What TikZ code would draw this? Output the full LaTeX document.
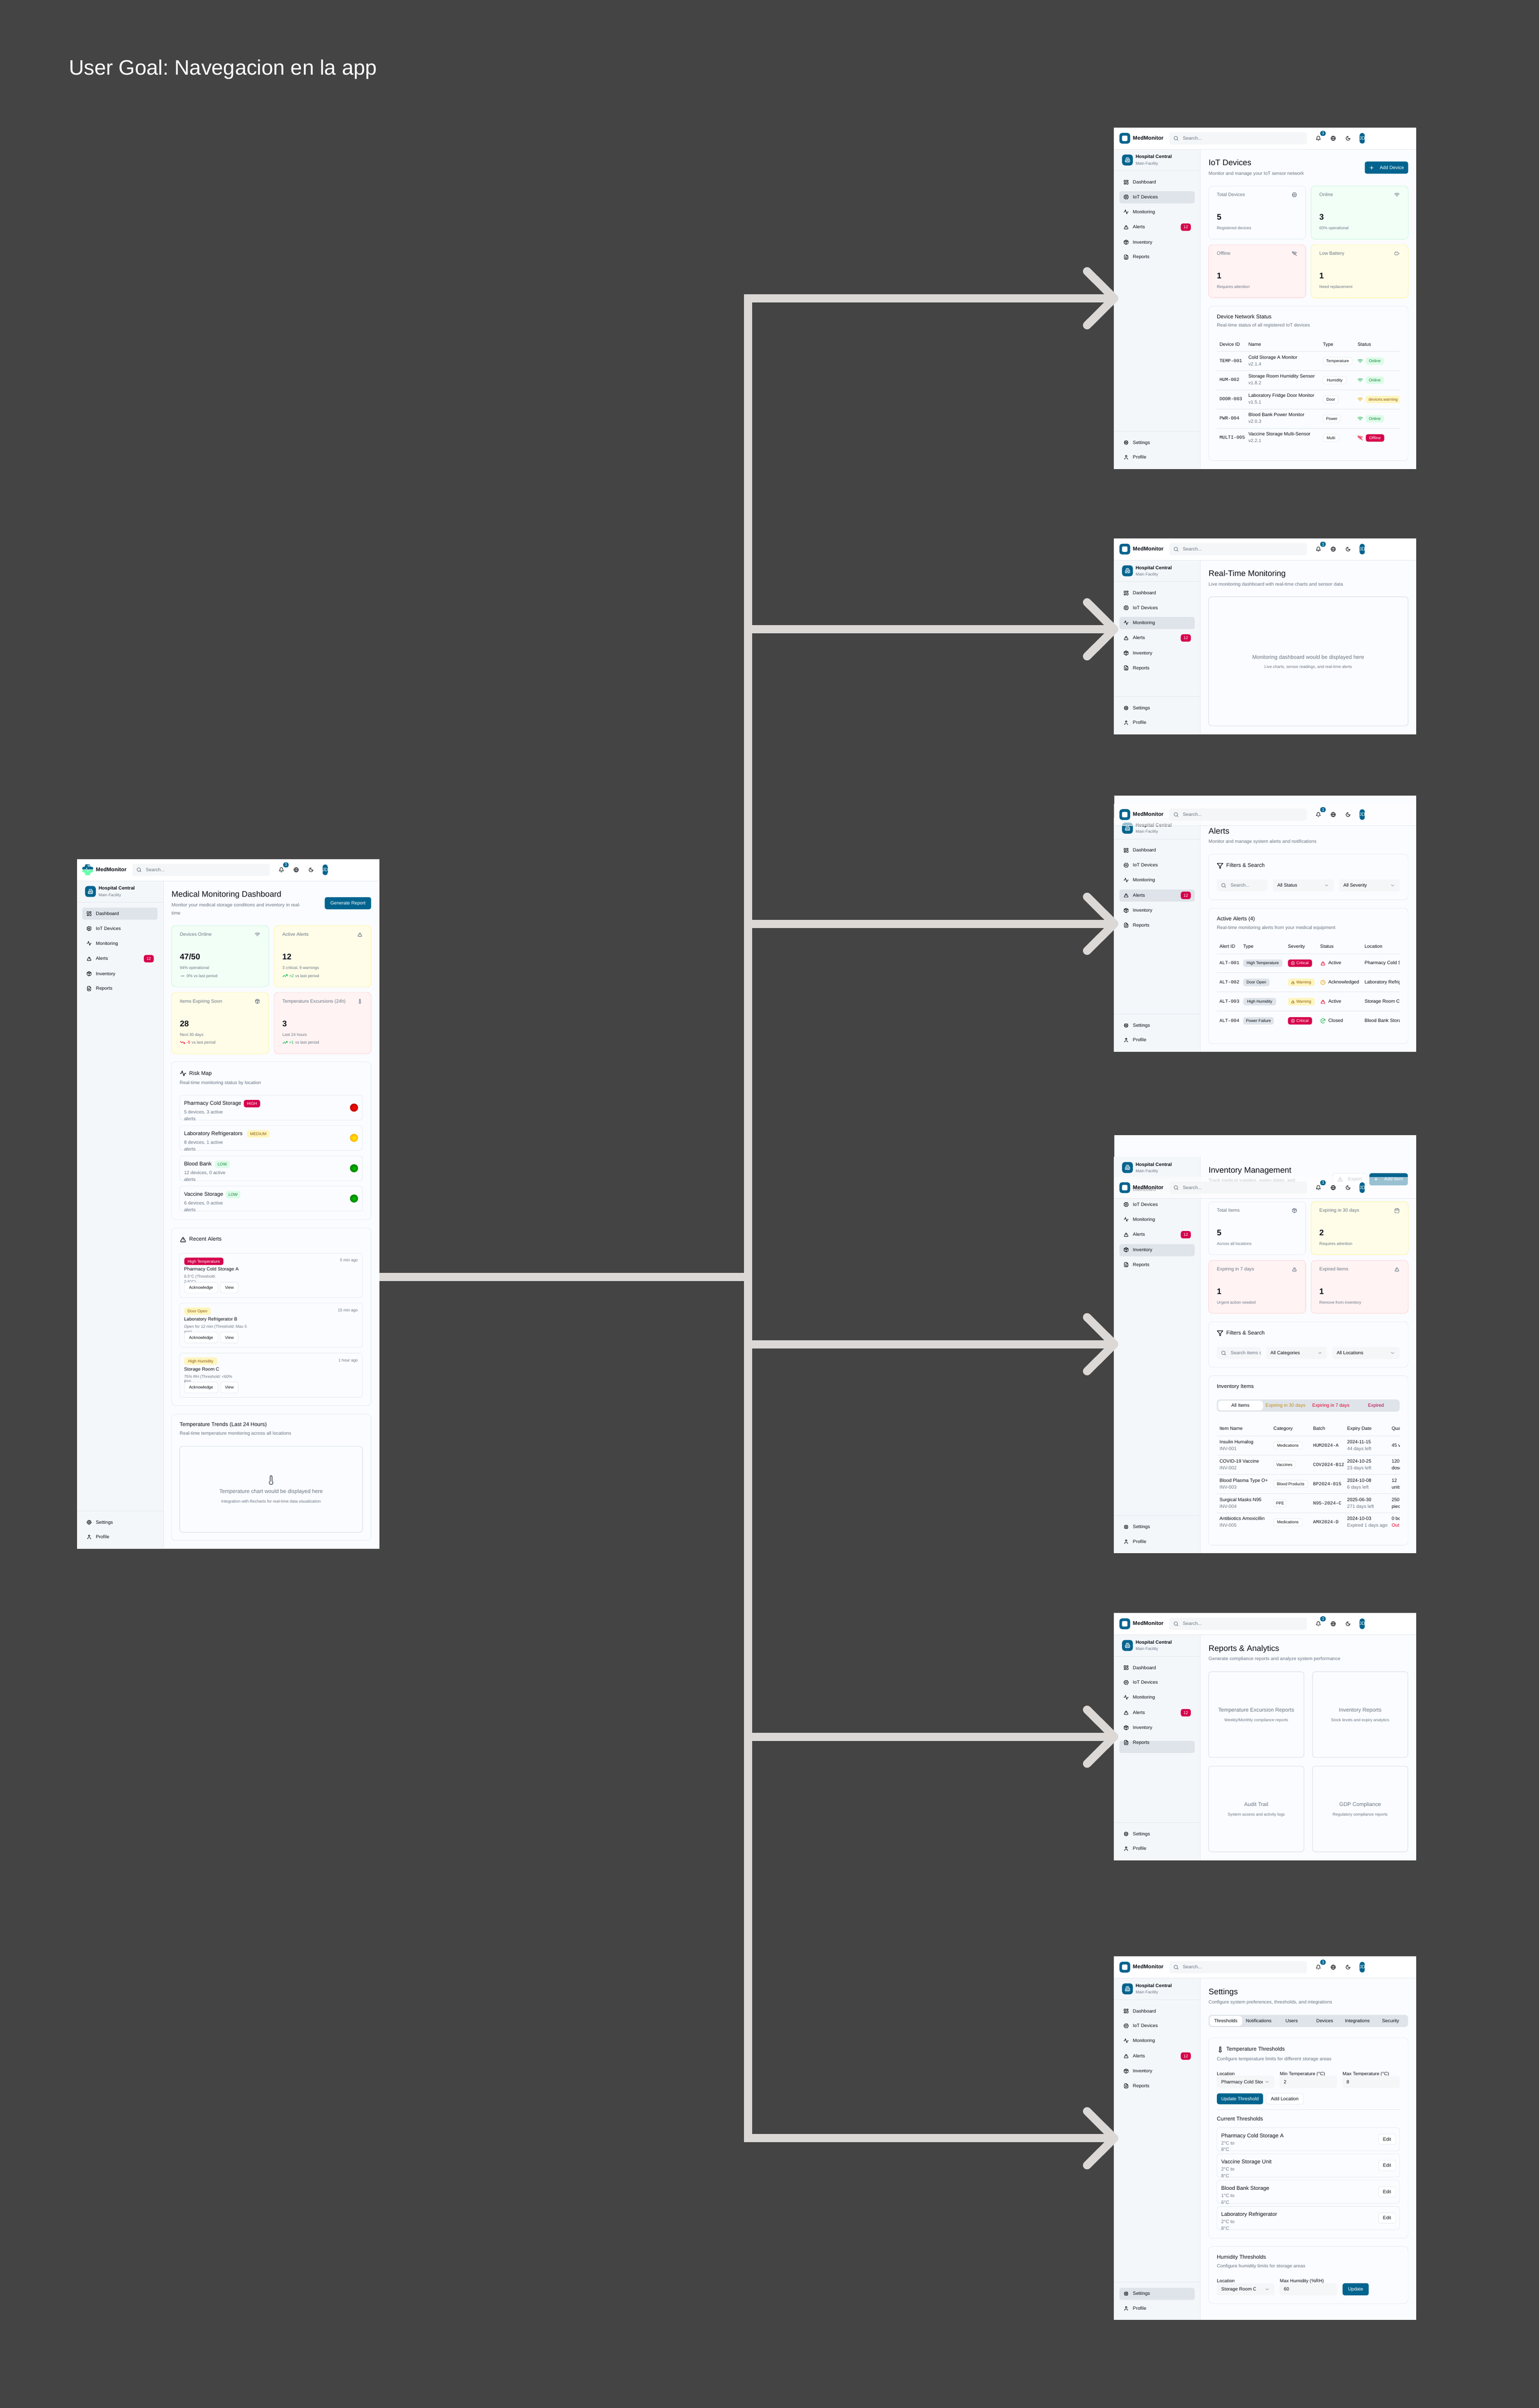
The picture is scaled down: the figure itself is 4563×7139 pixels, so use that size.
\documentclass[tikz,border=0pt]{standalone}
\usepackage{fontspec}
\setmainfont{Liberation Sans}
\setmonofont{Liberation Mono}
\usetikzlibrary{arrows.meta,calc}
\definecolor{bgdark}{HTML}{444444}
\definecolor{arrowc}{HTML}{DBD8D6}
\definecolor{pagec}{HTML}{FAFCFF}
\definecolor{sidec}{HTML}{F4F7FA}
\definecolor{linec}{HTML}{E2E8EE}
\definecolor{pillc}{HTML}{DEE4EA}
\definecolor{fieldc}{HTML}{F4F6F8}
\definecolor{inkc}{HTML}{0B0F16}
\definecolor{mutec}{HTML}{6B7684}
\definecolor{brandc}{HTML}{00648F}
\definecolor{crimc}{HTML}{D6004B}
\definecolor{greenbg}{HTML}{DCFCE7}
\definecolor{greenfg}{HTML}{15803D}
\definecolor{amberbg}{HTML}{FEF5BE}
\definecolor{amberfg}{HTML}{8F5A0A}
\definecolor{amberc}{HTML}{EAA50C}
\definecolor{redc}{HTML}{E7002A}
\definecolor{greenc}{HTML}{16B34A}
\definecolor{stgreenb}{HTML}{BBF7D0}
\definecolor{stgreenf}{HTML}{F2FFF6}
\definecolor{styellowb}{HTML}{FEF08A}
\definecolor{styellowf}{HTML}{FFFDE8}
\definecolor{stredb}{HTML}{FECACA}
\definecolor{stredf}{HTML}{FFF3F3}
\tikzset{
  t12/.style={font=\fontsize{12}{12}\selectfont,text height=10pt,text depth=1.4pt},
  t14/.style={font=\fontsize{14}{14}\selectfont,text height=11.7pt,text depth=2.3pt},
  t16/.style={font=\fontsize{16}{16}\selectfont,text height=13.3pt,text depth=2.7pt},
  t24/.style={font=\fontsize{24}{24}\selectfont,text height=20pt,text depth=4pt},
  tb14/.style={font=\fontsize{14}{14}\selectfont\bfseries,text height=11.7pt,text depth=2.3pt},
  tb16/.style={font=\fontsize{16}{16}\selectfont\bfseries,text height=13pt,text depth=3pt},
  tb24/.style={font=\fontsize{24}{24}\selectfont\bfseries,text height=20.3pt,text depth=4pt},
  tm14/.style={font=\fontsize{14}{14}\selectfont\ttfamily,text height=11.7pt,text depth=2.3pt},
  lab/.style={inner sep=0pt,anchor=west,text=inkc,t14},
  dim/.style={text=mutec},
  mid/.style={anchor=center},
  ends/.style={anchor=east},
  screen/.style={inner sep=0pt,anchor=north west,fill=pagec,minimum width=896pt},
  card/.style={draw=linec,fill=pagec,line width=1pt,rounded corners=12pt},
  rowbox/.style={draw=linec,fill=pagec,line width=1pt,rounded corners=8pt},
  panel/.style={draw=linec,fill=pagec,line width=2pt,rounded corners=8pt},
  field/.style={fill=fieldc,rounded corners=6pt},
  stwhite/.style={card},
  stgreen/.style={card,draw=stgreenb,fill=stgreenf},
  styellow/.style={card,draw=styellowb,fill=styellowf},
  stred/.style={card,draw=stredb,fill=stredf},
  tag/.style={inner sep=0pt,anchor=west,rounded corners=6pt,minimum height=22pt,t12},
  tagcrim/.style={fill=crimc,text=white},
  tagamber/.style={fill=amberbg,text=amberfg},
  taggreen/.style={fill=greenbg,text=greenfg},
  tagline/.style={draw=linec,line width=1pt,fill=white,text=inkc},
  taggrey/.style={fill=pillc,text=inkc},
  btnfill/.style={fill=brandc,text=white,t14,minimum height=36pt},
  btnline/.style={draw=linec,line width=1pt,fill=white,text=inkc,t14,minimum height=36pt},
  rule/.style={draw=linec,line width=1pt},
  icn/.style={scale=.667,line width=1.33pt,line cap=round,line join=round,color=inkc},
  icn20/.style={scale=1.25,line width=1.67pt},
  icn12/.style={scale=.75,line width=1pt},
  icn32/.style={scale=2,line width=2.67pt},
  g24/.style={shift={(-12,-12)}},
  conn/.style={draw=arrowc,line width=24.5pt,-{Straight Barb[round,length=80.5pt,width=160pt]}},
  pics/isearch/.style={code={\draw[g24] (11,11) circle (8pt) (21,21) -- (16.65,16.65);}},
  pics/ibell/.style={code={\draw[g24] (6,8) .. controls (6,4.7) and (8.7,2) .. (12,2) .. controls (15.3,2) and (18,4.7) .. (18,8) .. controls (18,15) and (21,17) .. (21,17) -- (3,17) .. controls (3,17) and (6,15) .. (6,8) (10.3,21) .. controls (11,22.3) and (13,22.3) .. (13.7,21);}},
  pics/iglobe/.style={code={\draw[g24] (12,12) circle (10pt) (2,12) -- (22,12) (12,12) ellipse (4pt and 10pt);}},
  pics/imoon/.style={code={\draw[g24] (12,3) .. controls (7,3) and (3,7) .. (3,12) .. controls (3,17) and (7,21) .. (12,21) .. controls (17,21) and (21,17) .. (21,12) .. controls (18,14.5) and (14,14.5) .. (12,12) .. controls (10,9.5) and (10,6) .. (12,3);}},
  pics/igrid/.style={code={\draw[g24,rounded corners=1pt] (3,3) rectangle (10,12) (14,3) rectangle (21,8) (14,12) rectangle (21,21) (3,16) rectangle (10,21);}},
  pics/ichip/.style={code={\draw[g24] (15,2) -- (15,4) (15,20) -- (15,22) (2,15) -- (4,15) (2,9) -- (4,9) (20,15) -- (22,15) (20,9) -- (22,9) (9,2) -- (9,4) (9,20) -- (9,22); \draw[g24,rounded corners=2pt] (4,4) rectangle (20,20); \draw[g24,rounded corners=1pt] (9,9) rectangle (15,15);}},
  pics/ipulse/.style={code={\draw[g24] (22,12) -- (18,12) -- (15,21) -- (9,3) -- (6,12) -- (2,12);}},
  pics/iwarn/.style={code={\draw[g24,rounded corners=2pt] (12,3) -- (22,21) -- (2,21) -- cycle; \draw[g24] (12,9) -- (12,13) (12,17) -- (12,17.01);}},
  pics/ibox/.style={code={\draw[g24] (12,2) -- (21,7) -- (21,17) -- (12,22) -- (3,17) -- (3,7) -- cycle (3,7) -- (12,12) -- (21,7) (12,12) -- (12,22) (7.5,4.5) -- (16.5,9.5);}},
  pics/ifile/.style={code={\draw[g24,rounded corners=2pt] (14,2) -- (4,2) -- (4,22) -- (20,22) -- (20,8) -- cycle; \draw[g24] (14,2) -- (14,8) -- (20,8) (16,13) -- (8,13) (16,17) -- (8,17) (10,9) -- (8,9);}},
  pics/igear/.style={code={\draw[g24] (12,12) circle (3pt) (12,12) circle (7.5pt); \foreach \a in {0,45,...,315} \draw[line width=2pt,line cap=butt] (\a:7.5pt) -- (\a:10pt);}},
  pics/iuser/.style={code={\draw[g24] (12,7) circle (4pt) (19,21) -- (19,19) .. controls (19,16.8) and (17.2,15) .. (15,15) -- (9,15) .. controls (6.8,15) and (5,16.8) .. (5,19) -- (5,21);}},
  pics/ibuild/.style={code={\draw[g24,rounded corners=1.5pt] (6,22) -- (6,2) -- (18,2) -- (18,22) -- cycle (6,12) -- (2,12) -- (2,22) -- (6,22) (18,9) -- (22,9) -- (22,22) -- (18,22); \draw[g24] (10,6) -- (14,6) (10,10) -- (14,10) (10,14) -- (14,14) (10,18) -- (14,18);}},
  pics/iwifi/.style={code={\draw[g24] (5,12.55) .. controls (9,9.2) and (15,9.2) .. (19,12.55) (1.4,9) .. controls (7.5,3.7) and (16.5,3.7) .. (22.6,9) (8.5,16.1) .. controls (10.6,14.6) and (13.4,14.6) .. (15.5,16.1) (12,20) -- (12,20.01);}},
  pics/iwifioff/.style={code={\draw[g24] (5,12.55) .. controls (9,9.2) and (15,9.2) .. (19,12.55) (1.4,9) .. controls (7.5,3.7) and (16.5,3.7) .. (22.6,9) (8.5,16.1) .. controls (10.6,14.6) and (13.4,14.6) .. (15.5,16.1) (12,20) -- (12,20.01) (2,2) -- (22,22);}},
  pics/ibatt/.style={code={\draw[g24,rounded corners=2pt] (2,6) rectangle (18,18); \draw[g24] (22,11) -- (22,13);}},
  pics/itherm/.style={code={\draw[g24] (14,14.5) -- (14,4) .. controls (14,1.3) and (10,1.3) .. (10,4) -- (10,14.5) .. controls (6.5,16.5) and (7.5,22) .. (12,22) .. controls (16.5,22) and (17.5,16.5) .. (14,14.5) -- cycle;}},
  pics/ifilter/.style={code={\draw[g24] (22,3) -- (2,3) -- (10,12.5) -- (10,19) -- (14,21) -- (14,12.5) -- cycle;}},
  pics/iplus/.style={code={\draw[g24] (5,12) -- (19,12) (12,5) -- (12,19);}},
  pics/iminus/.style={code={\draw[g24] (5,12) -- (19,12);}},
  pics/ichev/.style={code={\draw[g24] (6,9) -- (12,15) -- (18,9);}},
  pics/idown/.style={code={\draw[g24] (21,15) -- (21,21) -- (3,21) -- (3,15) (7,10) -- (12,15) -- (17,10) (12,15) -- (12,3);}},
  pics/ical/.style={code={\draw[g24,rounded corners=2pt] (3,4) rectangle (21,22); \draw[g24] (16,2) -- (16,6) (8,2) -- (8,6) (3,10) -- (21,10);}},
  pics/iup/.style={code={\draw[g24] (22,7) -- (13.5,15.5) -- (8.5,10.5) -- (2,17) (16,7) -- (22,7) -- (22,13);}},
  pics/idrop/.style={code={\draw[g24] (22,17) -- (13.5,8.5) -- (8.5,13.5) -- (2,7) (16,17) -- (22,17) -- (22,11);}},
  pics/ixcirc/.style={code={\draw[g24] (12,12) circle (10pt) (15,9) -- (9,15) (9,9) -- (15,15);}},
  pics/iclock/.style={code={\draw[g24] (12,12) circle (10pt) (12,6) -- (12,12) -- (16,14);}},
  pics/icheck/.style={code={\draw[g24] (22,12) arc (0:310:10pt) (9,11) -- (12,14) -- (22,4);}},
}
\newcounter{lbl}
\newcommand{\lab}[3][]{\stepcounter{lbl}\node[lab,#1] (lab\arabic{lbl}) at (#2) {#3};}
\newcommand{\tagn}[4][]{\stepcounter{lbl}\node[tag,#1,minimum width=#3pt] (tag\arabic{lbl}) at (#2) {#4};}
\newcommand{\ic}[3][]{\pic[icn,#1] at (#2) {#3};}
% text cut off at a right edge
\newcommand{\cutlab}[5][]{\begin{scope}\clip (#2-2,#4-15) rectangle (#3,#4+15); \lab[#1]{#2,#4}{#5}\end{scope}}
\newcommand{\navitem}[3]{\ic{36,#1}{#2}\lab{56,#1}{#3}}
\newcommand{\logosq}{%
  \fill[brandc,rounded corners=8pt] (16,16) rectangle (48,48);
  \fill[white,rounded corners=3pt] (24,24) rectangle (40,40);}
\newcommand{\logocross}{%
  \fill[brandc,rounded corners=2.5pt] (24,15.5) -- (39.5,15.5) -- (39.5,23.5) -- (48,23.5) -- (48,32) -- (16,32) -- (16,23.5) -- (24,23.5) -- cycle;
  \fill[green!55!cyan!60!white,rounded corners=2.5pt] (16,31.5) -- (48,31.5) -- (48,39.5) -- (39.5,39.5) -- (39.5,48) -- (24,48) -- (24,39.5) -- (16,39.5) -- cycle;
  \draw[white,line width=1pt] (19,31.5) -- (27,31.5) -- (29,26) -- (32,37) -- (34,31.5) -- (45,31.5);
  \ic[color=white,icn12]{36,21}{iwifi}}
% top bar: y offset, opacity of its backing, logo
\newcommand{\apphead}[3]{%
  \fill[white,opacity=#2] (0,#1) rectangle (896,#1+64);
  \draw[rule] (0,#1+64.5) -- (896,#1+64.5);
  \begin{scope}[shift={(0,#1)}]
    #3
    \lab[tb16]{56,31.5}{MedMonitor}
    \path[field] (164.3,14) rectangle (572,50);
    \ic[color=mutec]{184,32}{isearch}
    \lab[dim]{204,32}{Search...}
    \ic{606,32}{ibell}
    \tagn[tagcrim,fill=brandc,minimum height=15pt,mid]{619.6,17.4}{16}{3}
    \ic{650,32}{iglobe}
    \ic{694,32}{imoon}
    \begin{scope}
      \clip[rounded corners=8pt] (728,16) rectangle (744,48);
      \fill[brandc] (728,16) rectangle (744,48);
      \lab[text=white,mid]{736,32}{JD}
    \end{scope}
  \end{scope}}
% sidebar: height of the screen, centre of the active item
\newcommand{\appside}[2]{%
  \fill[sidec] (0,65) rectangle (256,#1);
  \draw[rule] (256,65) -- (256,#1);
  \path[fill=pillc,rounded corners=6pt] (16,#2-17.5) rectangle (239,#2+18.5);
  \fill[brandc,rounded corners=8pt] (24,80) rectangle (56,112.5);
  \ic[color=white]{40,96}{ibuild}
  \lab[tb14]{64,87}{Hospital Central}
  \lab[t12,dim]{64,106.5}{Main Facility}
  \draw[rule] (0,128) -- (256,128);
  \navitem{162}{igrid}{Dashboard}
  \navitem{206}{ichip}{IoT Devices}
  \navitem{250}{ipulse}{Monitoring}
  \navitem{295}{iwarn}{Alerts}
  \tagn[tagcrim]{198,295.5}{29.5}{12}
  \navitem{340}{ibox}{Inventory}
  \navitem{384}{ifile}{Reports}
  \draw[rule] (0,#1-112) -- (256,#1-112);
  \navitem{#1-78}{igear}{Settings}
  \navitem{#1-34.5}{iuser}{Profile}}
\newcommand{\pagetitle}[2]{\lab[t24]{280.5,105}{#1}\lab[dim]{280.5,136}{#2}}
% x, y, height, label, icon, value, note
\newcommand{\statcard}[8][stwhite]{%
  \path[#1] (#2,#3) rectangle (#2+288,#3+#4);
  \lab[dim]{#2+24.5,#3+25.5}{#5}
  \ic[color=mutec]{#2+254.5,#3+26}{#6}
  \lab[tb24]{#2+24.5,#3+92.5}{#7}
  \lab[t12,dim]{#2+24.5,#3+124.5}{#8}}
\newcommand{\riskrow}[9]{%
  \path[rowbox] (304.5,#1) rectangle (846.7,#1+73.7);
  \lab[t16]{317.4,#1+24}{#2}
  \tagn[#3]{#4,#1+24.7}{#5}{#6}
  \lab[dim]{317.4,#1+50}{#7}
  \lab[dim]{317.4,#1+69.6}{alerts}
  \shade[inner color=#8,outer color=#9] (821.5,#1+36.5) circle (12pt);}
\newcommand{\alertrow}[8]{%
  \path[rowbox] (304.5,#1) rectangle (846.7,#1+131.3);
  \tagn[#2]{318,#1+24}{#3}{#4}
  \lab[t12,dim,ends]{833,#1+20.8}{#5}
  \lab{317.4,#1+47.5}{#6}
  \lab[t12,dim]{317.4,#1+69.6}{#7}
  \lab[t12,dim]{317.4,#1+84.5}{#8}
  \tagn[tagline,minimum height=32pt]{318,#1+102}{99}{Acknowledge}
  \tagn[tagline,minimum height=32pt]{425.4,#1+102}{52}{View}}
\newcommand{\devrow}[6]{%
  \lab[tm14]{312.7,#1-1}{#2}
  \lab{398.4,#1-11}{#3}
  \lab[dim]{398.4,#1+9}{#4}
  \tagn[tagline]{619.6,#1+.4}{#5}{#6}}
\newcommand{\invrow}[8]{%
  \lab{312.7,#1-10.5}{#2}
  \lab[dim]{312.7,#1+9.5}{#3}
  \tagn[tagline]{472.9,#1}{#4}{#5}
  \lab[tm14]{590.2,#1-.5}{#6}
  \lab{691.2,#1-10.5}{#7}
  \lab[dim]{691.2,#1+9.5}{#8}}
\newcommand{\thrrow}[4]{%
  \path[rowbox] (305,#1) rectangle (847,#1+69);
  \lab[t16]{318,#1+23.7}{#2}
  \lab[dim]{318,#1+45.8}{#3}
  \lab[dim]{318,#1+65.6}{#4}
  \tagn[tagline,t14,minimum height=31pt]{783.9,#1+34.5}{50.5}{Edit}}
% left, right, top, text, where the text is cut
\newcommand{\selfield}[5]{%
  \path[field] (#1,#3) rectangle (#2,#3+36);
  \cutlab{#1+13}{#5}{#3+18}{#4}
  \ic[color=mutec!70!white]{#2-21,#3+18}{ichev}}
\begin{document}
\frenchspacing
\begin{tikzpicture}[x=1pt,y=-1pt]
  \fill[bgdark] (0,0) rectangle (4563,7139);
  \node[lab,text=white,anchor=base west,font=\fontsize{62}{62}\selectfont] (goal) at (204,221.7) {User Goal: Navegacion en la app};
  \node[screen,minimum height=2044.3pt] (dash) at (228.2,2546.7) {};
  \node[screen,minimum height=1012pt] (iot) at (3303,378) {};
  \node[screen,minimum height=581pt] (mon) at (3303,1596) {};
  \node[screen,minimum height=759pt] (alerts) at (3303,2359) {};
  \node[screen,minimum height=1240pt] (inv) at (3303,3365) {};
  \node[screen,minimum height=733pt] (reports) at (3303,4782) {};
  \node[screen,minimum height=1078pt] (settings) at (3303,5800) {};
  % dashboard
  \begin{scope}[shift={(dash.north west)}]
    \appside{2044.3}{161.5}
    \apphead{0}{1}{\logocross}
    \lab[t24]{280.5,105}{Medical Monitoring Dashboard}
    \lab[dim]{280.5,136}{Monitor your medical storage conditions and inventory in real-}
    \lab[dim]{280.5,160}{time}
    \tagn[btnfill]{734.6,131}{137.4}{Generate Report}
    \statcard[stgreen]{280.5}{197.5}{181.5}{Devices Online}{iwifi}{47/50}{94\% operational}
    \statcard[styellow]{584.4}{197.5}{181.5}{Active Alerts}{iwarn}{12}{3 critical, 9 warnings}
    \statcard[styellow]{280.5}{395.8}{181.5}{Items Expiring Soon}{ibox}{28}{Next 30 days}
    \statcard[stred]{584.4}{395.8}{181.5}{Temperature Excursions (24h)}{itherm}{3}{Last 24 hours}
    \ic[color=mutec]{313,346}{iminus}
    \lab[t12,dim]{325,346}{0\% vs last period}
    \ic[color=greenc]{617,346}{iup}
    \lab[t12,text=greenc]{629,346}{+2}
    \lab[t12,dim]{647,346}{vs last period}
    \ic[color=redc]{313,544}{idrop}
    \lab[t12,text=redc]{325,544}{-5}
    \lab[t12,dim]{340,544}{vs last period}
    \ic[color=greenc]{617,544}{iup}
    \lab[t12,text=greenc]{629,544}{+1}
    \lab[t12,dim]{647,544}{vs last period}
    \path[card] (280.5,601) rectangle (872,1069);
    \ic[icn20]{314.5,635.5}{ipulse}
    \lab[t16]{332.7,635}{Risk Map}
    \lab[dim]{304.5,663}{Real-time monitoring status by location}
    \riskrow{700.5}{Pharmacy Cold Storage}{tagcrim}{494.6}{48.5}{HIGH}{5 devices, 3 active}{red!90!orange}{red!75!black}
    \riskrow{790.2}{Laboratory Refrigerators}{tagamber}{504}{67}{MEDIUM}{8 devices, 1 active}{yellow!85!orange}{orange!60!yellow}
    \riskrow{880.3}{Blood Bank}{taggreen}{408.4}{44.6}{LOW}{12 devices, 0 active}{green!75!black}{green!50!black}
    \riskrow{970}{Vaccine Storage}{taggreen}{441}{43.4}{LOW}{6 devices, 0 active}{green!75!black}{green!50!black}
    \path[card] (280.5,1093.7) rectangle (872,1620.7);
    \ic[icn20]{314.5,1127.8}{iwarn}
    \lab[t16]{332.7,1127}{Recent Alerts}
    \alertrow{1168.7}{tagcrim}{116}{High Temperature}{5 min ago}{Pharmacy Cold Storage A}{8.5°C (Threshold:}{2-8°C)}
    \alertrow{1316.6}{tagamber}{78.5}{Door Open}{15 min ago}{Laboratory Refrigerator B}{Open for 12 min (Threshold: Max 5}{min)}
    \alertrow{1464.7}{tagamber}{98}{High Humidity}{1 hour ago}{Storage Room C}{75\% RH (Threshold: <60\%}{RH)}
    \path[card] (280.5,1646) rectangle (872,2020.5);
    \lab[t16]{304.5,1677}{Temperature Trends (Last 24 Hours)}
    \lab[dim]{304.5,1703}{Real-time temperature monitoring across all locations}
    \path[panel] (304.5,1741.3) rectangle (846.7,1996.3);
    \ic[color=mutec,icn32]{575.6,1841}{itherm}
    \lab[t16,dim,mid]{575.6,1875}{Temperature chart would be displayed here}
    \lab[t12,dim,mid]{575.6,1904.6}{Integration with Recharts for real-time data visualization}
  \end{scope}
  % iot devices
  \begin{scope}[shift={(iot.north west)}]
    \appside{1012}{206.5}
    \apphead{0}{1}{\logosq}
    \pagetitle{IoT Devices}{Monitor and manage your IoT sensor network}
    \tagn[btnfill]{743.5,119}{128.5}{}
    \ic[color=white]{763.4,119}{iplus}
    \lab[text=white]{788,119}{Add Device}
    \statcard{280.5}{173.4}{157.6}{Total Devices}{ichip}{5}{Registered devices}
    \statcard[stgreen]{584.4}{173.4}{157.6}{Online}{iwifi}{3}{60\% operational}
    \statcard[stred]{280.5}{347.5}{157.6}{Offline}{iwifioff}{1}{Requires attention}
    \statcard[styellow]{584.4}{347.5}{157.6}{Low Battery}{ibatt}{1}{Need replacement}
    \path[card] (280.5,529.7) rectangle (872,987.7);
    \lab[t16]{305,561}{Device Network Status}
    \lab[dim]{305,586.6}{Real-time status of all registered IoT devices}
    \lab{312.7,643}{Device ID}
    \lab{398.4,643}{Name}
    \lab{619.6,643}{Type}
    \lab{722.3,643}{Status}
    \draw[rule] (305,663) -- (847,663) (305,720.5) -- (847,720.5) (305,777.5) -- (847,777.5) (305,834.4) -- (847,834.4) (305,891.3) -- (847,891.3);
    \devrow{692}{TEMP-001}{Cold Storage A Monitor}{v2.1.4}{86}{Temperature}
    \devrow{749}{HUM-002}{Storage Room Humidity Sensor}{v1.8.2}{69}{Humidity}
    \devrow{806}{DOOR-003}{Laboratory Fridge Door Monitor}{v1.5.1}{45.5}{Door}
    \devrow{863}{PWR-004}{Blood Bank Power Monitor}{v2.0.3}{51.6}{Power}
    \devrow{920}{MULTI-005}{Vaccine Storage Multi-Sensor}{v2.2.1}{46.6}{Multi}
    \ic[color=greenc]{730,692}{iwifi}
    \tagn[taggreen]{746.4,692.4}{53.6}{Online}
    \ic[color=greenc]{730,749}{iwifi}
    \tagn[taggreen]{746.4,749.4}{53.6}{Online}
    \ic[color=amberc]{730,806}{iwifi}
    \begin{scope}
      \clip (740,790) rectangle (847,822);
      \tagn[tagamber]{746.4,806.4}{103}{devices.warning}
    \end{scope}
    \ic[color=greenc]{730,863}{iwifi}
    \tagn[taggreen]{746.4,863.4}{53.6}{Online}
    \ic[color=redc]{730,920}{iwifioff}
    \tagn[tagcrim]{746.4,920.4}{54.6}{Offline}
  \end{scope}
  % monitoring
  \begin{scope}[shift={(mon.north west)}]
    \appside{581}{250.5}
    \apphead{0}{1}{\logosq}
    \pagetitle{Real-Time Monitoring}{Live monitoring dashboard with real-time charts and sensor data}
    \path[panel] (280.5,173.3) rectangle (872,556);
    \lab[t16,dim,mid]{576,352}{Monitoring dashboard would be displayed here}
    \lab[t12,dim,mid]{576,381}{Live charts, sensor readings, and real-time alerts}
  \end{scope}
  % alerts
  \begin{scope}[shift={(alerts.north west)}]
    \appside{759}{295.5}
    \pagetitle{Alerts}{Monitor and manage system alerts and notifications}
    \path[card] (280.5,173.5) rectangle (872,308.7);
    \ic[icn20]{314.5,208}{ifilter}
    \lab[t16]{333,207}{Filters \& Search}
    \path[field] (305,248) rectangle (455.3,284);
    \ic[color=mutec]{325,266}{isearch}
    \lab[dim]{345.6,266}{Search...}
    \selfield{471}{651.3}{248}{All Status}{620}
    \selfield{667}{847}{248}{All Severity}{816}
    \path[card] (280.5,333.7) rectangle (872,735);
    \lab[t16]{305,365.3}{Active Alerts (4)}
    \lab[dim]{305,391}{Real-time monitoring alerts from your medical equipment}
    \lab{312.7,447}{Alert ID}
    \lab{383,447}{Type}
    \lab{515.7,447}{Severity}
    \lab{611.4,447}{Status}
    \lab{742.8,447}{Location}
    \draw[rule] (305,468) -- (847,468) (305,524.5) -- (847,524.5) (305,581.6) -- (847,581.6) (305,638.8) -- (847,638.8);
    \lab[tm14]{312.7,496}{ALT-001}
    \tagn[taggrey]{383,496.5}{116}{High Temperature}
    \tagn[tagcrim]{515.7,496.5}{71.3}{}
    \ic[color=white,icn12]{530.4,496.5}{ixcirc}
    \lab[t12,text=white]{540.4,496}{Critical}
    \ic[color=redc]{619.6,496.5}{iwarn}
    \lab{635.5,496}{Active}
    \cutlab{742.8}{847}{496}{Pharmacy Cold Storage A}
    \lab[tm14]{312.7,553}{ALT-002}
    \tagn[taggrey]{383,553.5}{78}{Door Open}
    \tagn[tagamber]{515.7,553.5}{79.3}{}
    \ic[color=amberfg,icn12]{530.4,553.5}{iwarn}
    \lab[t12,text=amberfg]{540.4,553}{Warning}
    \ic[color=amberc]{619.6,553.5}{iclock}
    \lab{635.5,553}{Acknowledged}
    \cutlab{742.8}{847}{553}{Laboratory Refrigerator B}
    \lab[tm14]{312.7,610}{ALT-003}
    \tagn[taggrey]{383,610.5}{97.5}{High Humidity}
    \tagn[tagamber]{515.7,610.5}{79.3}{}
    \ic[color=amberfg,icn12]{530.4,610.5}{iwarn}
    \lab[t12,text=amberfg]{540.4,610}{Warning}
    \ic[color=redc]{619.6,610.5}{iwarn}
    \lab{635.5,610}{Active}
    \cutlab{742.8}{847}{610}{Storage Room C}
    \lab[tm14]{312.7,667}{ALT-004}
    \tagn[taggrey]{383,667.5}{90.6}{Power Failure}
    \tagn[tagcrim]{515.7,667.5}{71.3}{}
    \ic[color=white,icn12]{530.4,667.5}{ixcirc}
    \lab[t12,text=white]{540.4,667}{Critical}
    \ic[color=greenc]{619.6,667.5}{icheck}
    \lab{635.5,667}{Closed}
    \cutlab{742.8}{847}{667}{Blood Bank Storage}
    \apphead{24}{.6}{\logosq}
  \end{scope}
  % inventory
  \begin{scope}[shift={(inv.north west)}]
    \appside{1240}{341}
    \lab[t24]{280.5,105}{Inventory Management}
    \lab[dim]{280.5,135}{Track medical supplies, expiry dates, and}
    \tagn[btnline]{649,131.3}{99.5}{}
    \ic[color=mutec]{670.7,130.6}{idown}
    \lab[dim]{694,130.6}{Export}
    \tagn[btnfill]{757,131.3}{114}{}
    \ic[color=white]{777,130.6}{iplus}
    \lab[text=white]{801,130.6}{Add Item}
    \statcard{280.5}{197.8}{157}{Total Items}{ibox}{5}{Across all locations}
    \statcard[styellow]{584.4}{197.8}{157}{Expiring in 30 days}{ical}{2}{Requires attention}
    \statcard[stred]{280.5}{371.5}{157}{Expiring in 7 days}{iwarn}{1}{Urgent action needed}
    \statcard[stred]{584.4}{371.5}{157}{Expired Items}{iwarn}{1}{Remove from inventory}
    \path[card] (280.5,553.4) rectangle (872,688.4);
    \ic[icn20]{314.5,587.8}{ifilter}
    \lab[t16]{333,587}{Filters \& Search}
    \path[field] (305,628.2) rectangle (435.4,664.2);
    \ic[color=mutec]{325,646.2}{isearch}
    \cutlab[dim]{345.6}{435.4}{646.2}{Search items or batch numbers}
    \selfield{451}{631.3}{628.2}{All Categories}{600}
    \selfield{647}{847}{628.2}{All Locations}{816}
    \path[card] (280.5,713.6) rectangle (872,1216);
    \lab[t16]{305,745}{Inventory Items}
    \path[fill=pillc,rounded corners=10pt] (305,783.9) rectangle (847,820);
    \path[fill=white,rounded corners=8pt] (308.6,787.5) rectangle (441.8,816.5);
    \lab[mid]{375,802}{All Items}
    \lab[mid,text=amberc!85!black]{508.7,802}{Expiring in 30 days}
    \lab[mid,text=redc]{643,802}{Expiring in 7 days}
    \lab[mid,text=crimc!85!black]{776.9,802}{Expired}
    \lab{312.7,870.6}{Item Name}
    \lab{472.9,870.6}{Category}
    \lab{590.2,870.6}{Batch}
    \lab{691.2,870.6}{Expiry Date}
    \cutlab{823.2}{847}{870.6}{Quantity}
    \draw[rule] (305,891.3) -- (847,891.3) (305,948.2) -- (847,948.2) (305,1005.6) -- (847,1005.6) (305,1062.5) -- (847,1062.5) (305,1119.5) -- (847,1119.5);
    \invrow{920.2}{Insulin Humalog}{INV-001}{84.5}{Medications}{HUM2024-A}{2024-11-15}{44 days left}
    \invrow{977.2}{COVID-19 Vaccine}{INV-002}{63.8}{Vaccines}{COV2024-B12}{2024-10-25}{23 days left}
    \invrow{1034.2}{Blood Plasma Type O+}{INV-003}{101}{Blood Products}{BP2024-015}{2024-10-08}{6 days left}
    \invrow{1091.2}{Surgical Masks N95}{INV-004}{38}{PPE}{N95-2024-C}{2025-06-30}{271 days left}
    \invrow{1148.2}{Antibiotics Amoxicillin}{INV-005}{84.5}{Medications}{AMX2024-D}{2024-10-03}{Expired 1 days ago}
    \cutlab{823.2}{847}{919.7}{45 vials}
    \cutlab{823.2}{847}{966.7}{120}
    \cutlab{823.2}{847}{986.7}{doses}
    \cutlab{823.2}{847}{1023.7}{12}
    \cutlab{823.2}{847}{1043.7}{units}
    \cutlab{823.2}{847}{1080.7}{250}
    \cutlab{823.2}{847}{1100.7}{pieces}
    \cutlab{823.2}{847}{1137.7}{0 boxes}
    \cutlab[text=redc]{823.2}{847}{1157.7}{Out of stock}
    \apphead{124}{.6}{\logosq}
  \end{scope}
  % reports
  \begin{scope}[shift={(reports.north west)}]
    \appside{733}{396.5}
    \apphead{0}{1}{\logosq}
    \pagetitle{Reports \& Analytics}{Generate compliance reports and analyze system performance}
    \path[panel] (280.5,174) rectangle (563.3,428);
    \path[panel] (588.5,174) rectangle (871.3,428);
    \path[panel] (280.5,454) rectangle (563.3,708);
    \path[panel] (588.5,454) rectangle (871.3,708);
    \lab[t16,dim,mid]{421.9,288.4}{Temperature Excursion Reports}
    \lab[t12,dim,mid]{421.9,317}{Weekly/Monthly compliance reports}
    \lab[t16,dim,mid]{730,288.4}{Inventory Reports}
    \lab[t12,dim,mid]{730,317}{Stock levels and expiry analytics}
    \lab[t16,dim,mid]{421.9,568}{Audit Trail}
    \lab[t12,dim,mid]{421.9,597.5}{System access and activity logs}
    \lab[t16,dim,mid]{730,568}{GDP Compliance}
    \lab[t12,dim,mid]{730,597.5}{Regulatory compliance reports}
  \end{scope}
  % settings
  \begin{scope}[shift={(settings.north west)}]
    \appside{1078}{1000}
    \apphead{0}{1}{\logosq}
    \pagetitle{Settings}{Configure system preferences, thresholds, and integrations}
    \path[fill=pillc,rounded corners=10pt] (280.5,173.2) rectangle (872,209.4);
    \path[fill=white,rounded corners=8pt] (283.4,176.8) rectangle (380.2,206);
    \lab[mid]{331.5,191.5}{Thresholds}
    \lab[mid]{429,191.5}{Notifications}
    \lab[mid]{527,191.5}{Users}
    \lab[mid]{625,191.5}{Devices}
    \lab[mid]{721.7,191.5}{Integrations}
    \lab[mid]{820.3,191.5}{Security}
    \path[card] (280.5,241.5) rectangle (872,835.8);
    \ic[icn20]{315,275.9}{itherm}
    \lab[t16]{333,275.4}{Temperature Thresholds}
    \lab[dim]{305,303.6}{Configure temperature limits for different storage areas}
    \lab{305,347.8}{Location}
    \lab{491.7,347.8}{Min Temperature (°C)}
    \lab{677.7,347.8}{Max Temperature (°C)}
    \selfield{305}{475.3}{354}{Pharmacy Cold Storage A}{440}
    \path[field] (491,354) rectangle (661.3,390);
    \lab{503.4,372}{2}
    \path[field] (677,354) rectangle (847,390);
    \lab{689.4,372}{8}
    \tagn[btnfill,minimum height=32.4pt]{305,422.2}{136.8}{Update Threshold}
    \tagn[btnline,minimum height=32.4pt]{450.6,422.2}{110.4}{Add Location}
    \draw[rule] (305,454.5) -- (847,454.5);
    \lab[t16]{305,482}{Current Thresholds}
    \thrrow{507.6}{Pharmacy Cold Storage A}{2°C to}{8°C}
    \thrrow{585.5}{Vaccine Storage Unit}{2°C to}{8°C}
    \thrrow{663.4}{Blood Bank Storage}{1°C to}{6°C}
    \thrrow{741.3}{Laboratory Refrigerator}{2°C to}{8°C}
    \path[card] (280.5,860.3) rectangle (872,1029.5);
    \lab[t16]{305,892.3}{Humidity Thresholds}
    \lab[dim]{305,918}{Configure humidity limits for storage areas}
    \lab{305,962.3}{Location}
    \lab{491.7,962.3}{Max Humidity (\%RH)}
    \selfield{305}{475.3}{969}{Storage Room C}{419.5}
    \path[field] (491,969) rectangle (661.3,1005);
    \lab{503.4,987}{60}
    \tagn[btnfill]{677.7,987}{77.5}{Update}
  \end{scope}
  % connectors
  \coordinate (dashout) at ([yshift=-216.6pt]dash.east);
  \coordinate (bus) at (2218,0);
  \coordinate (iotin) at ([xshift=13pt]iot.west);
  \coordinate (monin) at ([xshift=13pt,yshift=21pt]mon.west);
  \coordinate (alertsin) at ([xshift=13pt]alerts.west);
  \coordinate (invin) at ([xshift=13pt]inv.west);
  \coordinate (reportsin) at ([xshift=13pt]reports.west);
  \coordinate (settingsin) at ([xshift=13pt]settings.west);
  \draw[conn] (dashout) -- (dashout -| bus) |- (iotin);
  \draw[conn] (dashout) -- (dashout -| bus) |- (monin);
  \draw[conn] (dashout) -- (dashout -| bus) |- (alertsin);
  \draw[conn] (dashout) -- (dashout -| bus) |- (invin);
  \draw[conn] (dashout) -- (dashout -| bus) |- (reportsin);
  \draw[conn] (dashout) -- (dashout -| bus) |- (settingsin);
\end{tikzpicture}
\end{document}
